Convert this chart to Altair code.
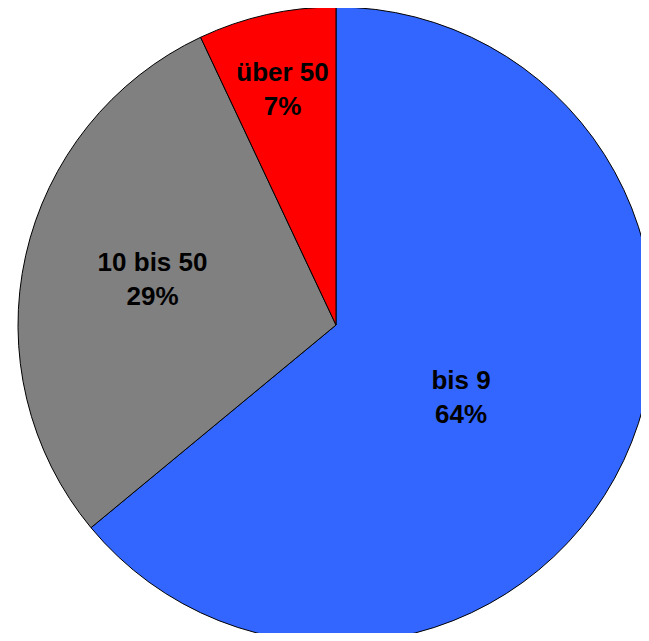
import altair as alt
import pandas as pd

categories = ["bis 9", "10 bis 50", "über 50"]
percents = [64, 29, 7]
colors = ["#3366FF", "#808080", "#FF0000"]

df = pd.DataFrame({"cat": categories, "pct": percents, "order": [0, 1, 2]})

pie = alt.Chart(df).mark_arc(radius=318, stroke="black", strokeWidth=1).encode(
    theta=alt.Theta("pct:Q", stack=True),
    order=alt.Order("order:Q"),
    color=alt.Color("cat:N", scale=alt.Scale(domain=categories, range=colors), legend=None),
    x=alt.value(328),
    y=alt.value(317),
)

labels = alt.Chart(df).transform_window(
    cum="sum(pct)", sort=[alt.SortField("order")]
).transform_calculate(
    mid="datum.cum - datum.pct / 2",
    label="[datum.cat, datum.pct + '%']",
).transform_calculate(
    lt="datum.mid + (datum.cat == 'bis 9' ? 1.44 : (datum.cat == '10 bis 50' ? 0.36 : -0.06))",
    lr="datum.cat == 'bis 9' ? 145 : (datum.cat == 'über 50' ? 241 : 189)",
).mark_text(
    font="Liberation Sans", fontWeight="bold", fontSize=26, lineHeight=34,
    align="center", baseline="middle", color="black", dy=-17
).encode(
    theta=alt.Theta("lt:Q", stack=False),
    radius=alt.Radius("lr:Q", scale=None),
    text="label:N",
    x=alt.value(328),
    y=alt.value(317),
)

chart = alt.layer(pie, labels).properties(
    width=633, height=625, padding=0, autosize=alt.AutoSizeParams(type="none")
).configure_view(stroke=None)

chart.save("out.html", embed_options={"renderer": "svg", "actions": False})
